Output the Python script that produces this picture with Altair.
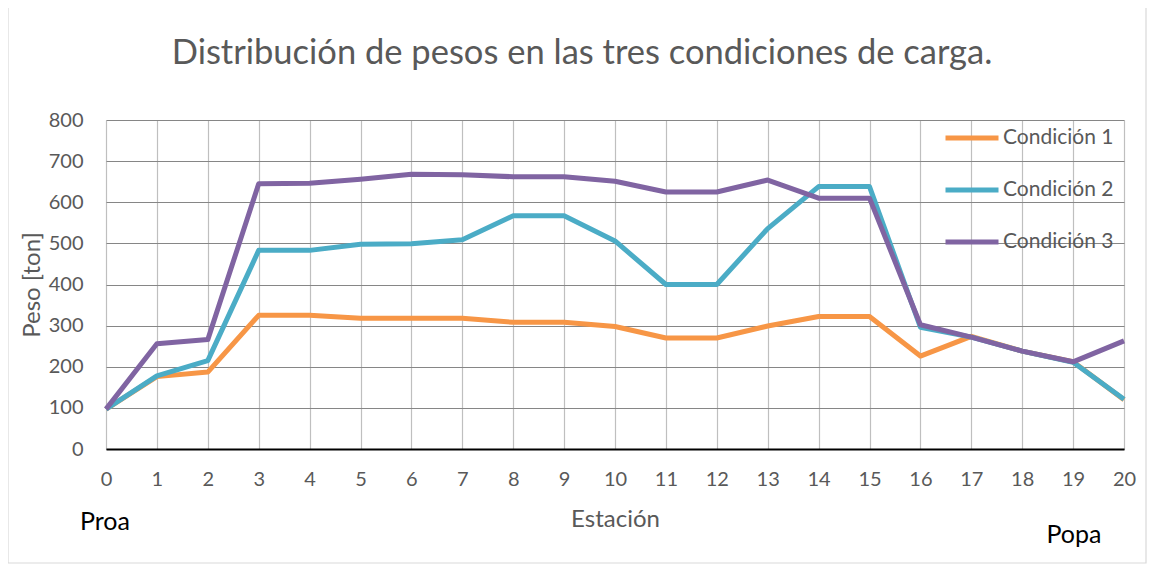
import altair as alt
import pandas as pd

stations = list(range(21))
cond1 = [97, 176, 187, 325, 325, 318, 318, 318, 308, 308, 298, 270, 270, 299, 322, 322, 226, 274, 238, 212, 120]
cond2 = [97, 178, 215, 483, 483, 498, 499, 509, 567, 567, 506, 400, 400, 536, 638, 638, 296, 272, 238, 211, 121]
cond3 = [97, 256, 266, 645, 646, 656, 668, 667, 662, 662, 651, 625, 625, 654, 610, 610, 302, 272, 238, 212, 263]
series_names = ["Condición 1", "Condición 2", "Condición 3"]
series_colors = ["#F79646", "#4BACC6", "#8064A2"]
y_ticks = [0, 100, 200, 300, 400, 500, 600, 700, 800]
title_text = "Distribución de pesos en las tres condiciones de carga."

rows = []
for name, vals in zip(series_names, [cond1, cond2, cond3]):
    for s, v in zip(stations, vals):
        rows.append({"Estación": s, "Peso": v, "Serie": name})
df = pd.DataFrame(rows)

W, H = 1018, 329
FONT = "Lato"
GREY = "#595959"

frame = alt.Chart(pd.DataFrame({"a": [0]})).mark_rect(
    fill=None, stroke="#d9d9d9", strokeWidth=1.2
).encode(
    x=alt.value(-98), x2=alt.value(1040), y=alt.value(-113), y2=alt.value(443)
)

title = alt.Chart(pd.DataFrame({"t": [title_text]})).mark_text(
    align="center", baseline="alphabetic", fontSize=34.5, font=FONT, color=GREY
).encode(x=alt.value(476), y=alt.value(-56), text="t:N")

lines = alt.Chart(df).mark_line(strokeWidth=5, strokeJoin="round").encode(
    x=alt.X("Estación:Q",
            scale=alt.Scale(domain=[0, 20], nice=False, zero=False),
            axis=alt.Axis(values=stations, format="d", title="Estación",
                          grid=True, gridColor="#bfbfbf", gridWidth=1.2,
                          ticks=False, domain=True, domainColor="#000000", domainWidth=2,
                          labelFontSize=20, labelColor=GREY, labelFont=FONT,
                          labelPadding=30, labelBaseline="middle", labelFlush=False,
                          titleFontSize=24, titleColor=GREY, titleFont=FONT,
                          titleFontWeight="normal", titleY=70, titleBaseline="middle")),
    y=alt.Y("Peso:Q",
            scale=alt.Scale(domain=[0, 800], nice=False),
            axis=alt.Axis(values=y_ticks, title="Peso [ton]",
                          grid=True, gridColor="#868686", gridWidth=1.2,
                          ticks=False, domain=False,
                          labelFontSize=20, labelColor=GREY, labelFont=FONT,
                          labelPadding=23, labelFlush=False,
                          titleFontSize=24, titleColor=GREY, titleFont=FONT,
                          titleFontWeight="normal", titleX=-74, titleY=H / 2,
                          titleBaseline="middle", titleAlign="center")),
    color=alt.Color("Serie:N",
                    scale=alt.Scale(domain=series_names, range=series_colors),
                    legend=alt.Legend(orient="none", legendX=837, legendY=-11, title=None,
                                      symbolType="stroke", symbolSize=2809,
                                      symbolStrokeWidth=5, labelFontSize=21,
                                      labelColor=GREY, labelFont=FONT, rowPadding=13,
                                      labelOffset=2, padding=0)),
    order=alt.Order("Serie:N"),
)

proa = alt.Chart(pd.DataFrame({"t": ["Proa"], "s": [0]})).mark_text(
    align="left", baseline="middle", fontSize=25, font=FONT, color="#000000", dx=-26
).encode(x="s:Q", y=alt.value(402), text="t:N")

popa = alt.Chart(pd.DataFrame({"t": ["Popa"], "s": [20]})).mark_text(
    align="center", baseline="middle", fontSize=25, font=FONT, color="#000000", dx=-50
).encode(x="s:Q", y=alt.value(415), text="t:N")

chart = alt.layer(frame, title, lines, proa, popa).properties(
    width=W, height=H,
    autosize=alt.AutoSizeParams(type="none"),
    padding={"left": 98, "top": 112, "right": 25, "bottom": 115},
).configure_view(stroke=None)

chart.save("out.html", embed_options={"renderer": "svg", "actions": False})
